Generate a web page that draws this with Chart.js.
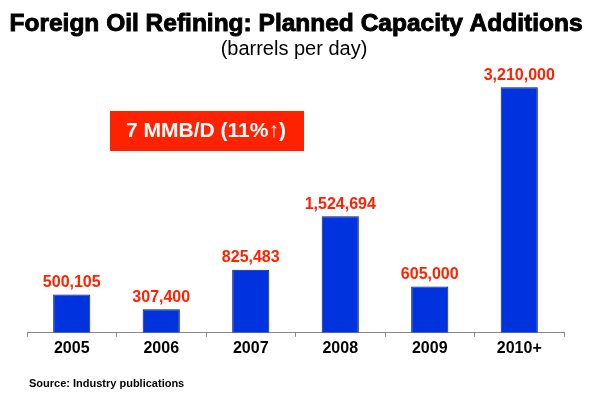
<!DOCTYPE html>
<html>
<head>
<meta charset="utf-8">
<script src="https://cdn.jsdelivr.net/npm/chart.js@4"></script>
<style>
  html, body { margin: 0; padding: 0; background: #fff; }
  #wrap { width: 602px; height: 398px; }
</style>
</head>
<body>
<div id="wrap"><canvas id="capacityChart"></canvas></div>
<script>
// Chart data
const years = ['2005', '2006', '2007', '2008', '2009', '2010+'];
const capacity = [500105, 307400, 825483, 1524694, 605000, 3210000];
const titleText = 'Foreign Oil Refining: Planned Capacity Additions';
const subtitleText = '(barrels per day)';
const calloutText = '7 MMB/D (11%\u2191)';
const sourceText = 'Source: Industry publications';

const FONT = '"Liberation Sans", Arial, sans-serif';

// value labels above each bar
const barLabels = {
    id: 'barLabels',
    afterDatasetsDraw(chart) {
        const ctx = chart.ctx;
        const meta = chart.getDatasetMeta(0);
        ctx.save();
        ctx.font = 'bold 16px ' + FONT;
        ctx.fillStyle = '#ff2200';
        ctx.textAlign = 'center';
        ctx.textBaseline = 'middle';
        meta.data.forEach(function(bar, i) {
            ctx.fillText(capacity[i].toLocaleString('en-US'), bar.x, bar.y - 12);
        });
        ctx.restore();
    }
};

// heavy title, subtitle, red callout box, source note
const extras = {
    id: 'extras',
    afterDraw(chart) {
        const ctx = chart.ctx;
        ctx.save();
        ctx.textAlign = 'center';
        ctx.textBaseline = 'alphabetic';

        // title (heavy look)
        ctx.font = 'bold 24.5px ' + FONT;
        ctx.fillStyle = '#000';
        ctx.strokeStyle = '#000';
        ctx.lineWidth = 0.9;
        ctx.fillText(titleText, 296, 31, 573);
        ctx.strokeText(titleText, 296, 31, 573);

        ctx.font = '20px ' + FONT;
        ctx.fillText(subtitleText, 294, 55);

        // callout
        ctx.fillStyle = '#ff2200';
        ctx.fillRect(110, 111, 194, 40);
        ctx.fillStyle = '#ffffff';
        ctx.font = 'bold 21px ' + FONT;
        ctx.textBaseline = 'middle';
        ctx.fillText(calloutText, 206, 131);

        // source
        ctx.fillStyle = '#000000';
        ctx.font = 'bold 11px "Liberation Sans Narrow", ' + FONT;
        ctx.textAlign = 'left';
        ctx.fillText(sourceText, 29, 384);
        ctx.restore();
    }
};

const ctx = document.getElementById('capacityChart').getContext('2d');
new Chart(ctx, {
    type: 'bar',
    data: {
        labels: years,
        datasets: [{
            data: capacity,
            backgroundColor: '#0033dd',
            borderColor: '#001a66',
            borderWidth: 1,
            barPercentage: 0.83,
            categoryPercentage: 0.5
        }]
    },
    options: {
        responsive: true,
        maintainAspectRatio: false,
        animation: false,
        layout: {
            padding: { left: 27, right: 38, top: 65, bottom: 38 }
        },
        plugins: {
            legend: { display: false },
            tooltip: { enabled: false },
            title: { display: false }
        },
        scales: {
            x: {
                offset: true,
                grid: {
                    display: true,
                    offset: true,
                    drawOnChartArea: false,
                    tickLength: 4,
                    color: '#888'
                },
                border: { display: true, color: '#888' },
                ticks: {
                    color: '#000',
                    padding: 2,
                    font: { family: FONT, size: 16, weight: 'bold' }
                }
            },
            y: {
                display: false,
                min: 0,
                max: 3500000
            }
        }
    },
    plugins: [barLabels, extras]
});
</script>
</body>
</html>
